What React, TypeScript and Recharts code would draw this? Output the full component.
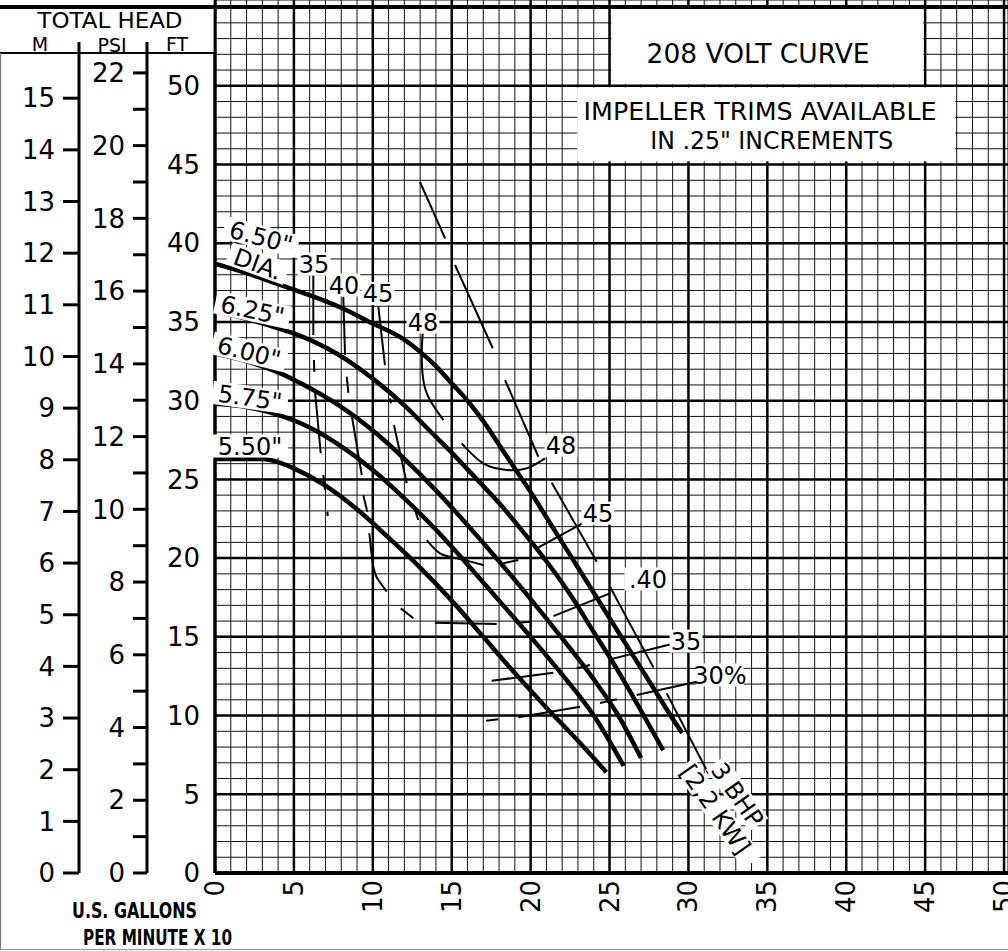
import React from 'react';
import {
  LineChart,
  Line,
  XAxis,
  YAxis,
  CartesianGrid,
  ReferenceLine,
  ReferenceArea,
  ReferenceDot,
} from 'recharts';

type Pt = [number, number];

const FONT = "'DejaVu Sans', 'Liberation Sans', sans-serif";
const NARROW = "'DejaVu Sans Condensed', 'Liberation Sans Narrow', 'DejaVu Sans', sans-serif";

// impeller curves, [US gpm / 10, total head ft]
const DIA_650: Pt[] = [
  [0, 38.7], [2, 38.1], [4, 37.4], [6, 36.7], [8, 35.9], [10, 34.9], [11.8, 34.0], [13, 33.1],
  [14, 32.2], [15, 31.1], [16, 30.0], [17, 28.7], [18, 27.2], [19, 25.7], [20, 24.2], [21, 22.6],
  [22, 21.0], [23, 19.4], [24, 17.8], [25, 16.2], [26, 14.6], [27, 13.0], [28, 11.4], [29, 9.8], [29.6, 8.9],
];
const DIA_625: Pt[] = [
  [0, 35.7], [2, 35.2], [4, 34.6], [5.2, 34.2], [7.7, 33.0], [10, 31.4], [12, 29.7], [13.5, 28.2],
  [15, 26.7], [16.5, 25.1], [18, 23.5], [19.5, 21.7], [21, 19.8], [22.5, 17.7], [24, 15.3], [25.5, 12.9],
  [27, 10.3], [28.4, 7.8],
];
const DIA_600: Pt[] = [
  [0, 33.0], [2, 32.5], [4, 31.8], [6, 30.8], [8, 29.6], [10, 28.1], [12, 26.3], [14, 24.3],
  [16, 22.1], [18, 19.8], [20, 17.4], [22, 14.9], [24, 12.3], [25.5, 10.1], [27, 7.3],
];
const DIA_575: Pt[] = [
  [0, 29.8], [2, 29.6], [4, 29.1], [6, 28.3], [8, 27.1], [10, 25.6], [12, 23.8], [14, 21.8],
  [16, 19.6], [18, 17.3], [20, 15.0], [22, 12.6], [24, 10.0], [25.9, 6.8],
];
const DIA_550: Pt[] = [
  [0, 26.3], [3, 26.3], [4, 26.1], [5, 25.7], [7, 24.6], [9, 23.1], [11, 21.3], [13, 19.4],
  [15, 17.3], [17, 15.0], [19, 12.7], [21, 10.5], [23, 8.4], [24.8, 6.4],
];
const IMPELLERS = [DIA_650, DIA_625, DIA_600, DIA_575, DIA_550];

// efficiency contours, drawn in broken pieces as on the sheet
const EFF_35_LEFT: Pt[][] = [
  [[6.23, 37.98], [6.23, 34.17]],
  [[6.27, 32.58], [6.29, 31.84]],
  [[6.34, 30.57], [6.7, 26.66]],
  [[6.86, 25.28], [6.97, 24.33]],
  [[7.12, 22.95], [7.14, 22.67]],
];
const EFF_40_LEFT: Pt[][] = [
  [[8.13, 36.6], [8.24, 32.9]],
  [[8.35, 31.52], [8.45, 30.5]],
  [[8.66, 29.09], [9.3, 25.28]],
  [[9.4, 24.0], [9.65, 22.95]],
  [[9.78, 21.58], [10.03, 19.45], [10.35, 18.61], [10.88, 17.87]],
  [[11.77, 16.81], [12.57, 16.18]],
];
const EFF_40_RIGHT: Pt[][] = [
  [[13.94, 15.9], [17.85, 15.81]],
  [[19.12, 15.9], [20.07, 15.96]],
  [[21.44, 16.32], [25.03, 17.76]],
];
const EFF_45: Pt[][] = [
  [[10.35, 35.97], [10.77, 32.26]],
  [[11.09, 30.15], [11.15, 29.83]],
  [[11.34, 28.45], [12.15, 24.75]],
  [[12.57, 23.37], [12.88, 22.42]],
  [[13.42, 21.15], [14.26, 20.3], [15.32, 19.99], [17.0, 19.56]],
  [[18.27, 19.67], [19.22, 19.88]],
  [[20.39, 20.62], [23.45, 22.31]],
];
const EFF_48: Pt[][] = [
  [[13.16, 34.28], [13.1, 33.0], [13.2, 31.31], [13.62, 30.04], [14.47, 28.77]],
  [[15.63, 27.29], [17.0, 26.02], [18.49, 25.6], [19.75, 25.7], [20.91, 26.34]],
];
const EFF_35_RIGHT: Pt[][] = [
  [[17.53, 12.21], [21.44, 12.72]],
  [[22.92, 13.0], [23.76, 13.21]],
  [[25.03, 13.57], [28.83, 14.51]],
];
const EFF_30: Pt[][] = [
  [[17.17, 9.67], [17.95, 9.76]],
  [[19.22, 9.89], [23.13, 10.56]],
  [[24.4, 10.8], [25.46, 11.03]],
  [[26.72, 11.3], [30.53, 12.15]],
];
const EFFICIENCY = [
  ...EFF_35_LEFT, ...EFF_40_LEFT, ...EFF_40_RIGHT, ...EFF_45, ...EFF_48, ...EFF_35_RIGHT, ...EFF_30,
];

// 3 BHP power limit line
const BHP_3: Pt[][] = [
  [[12.99, 43.89], [14.58, 40.31]],
  [[15.21, 38.62], [17.6, 33.33]],
  [[18.38, 31.31], [20.49, 26.44]],
  [[21.34, 24.79], [24.19, 19.77]],
  [[25.03, 18.18], [27.78, 13.06]],
  [[28.62, 11.41], [31.26, 6.33]],
];

// axis ticks
const Q_GRID = Array.from({ length: 51 }, (_, i) => i);
const H_GRID = Array.from({ length: 56 }, (_, i) => i);
const PSI_TICKS = Array.from({ length: 23 }, (_, i) => i);
const M_TICKS = Array.from({ length: 16 }, (_, i) => i);
const MAJOR_Q = [0, 5, 10, 15, 20, 25, 30, 35, 40, 45, 50];
const MAJOR_H = [0, 5, 10, 15, 20, 25, 30, 35, 40, 45, 50, 55];

const H_MAX = 55.45;
const Q_MAX = 50.25;
const FT_PER_PSI = 2.31;
const FT_PER_M = 3.2808;

type Note = {
  q: number;
  h: number;
  text: string;
  size?: number;
  angle?: number;
  anchor?: 'start' | 'middle';
  bg?: boolean;
  tl?: number;
};

const NOTES: Note[] = [
  { q: 2.92, h: 40.4, text: '6.50"', angle: 15 },
  { q: 2.72, h: 38.7, text: 'DIA.', angle: 20 },
  { q: 2.38, h: 35.76, text: '6.25"', angle: 12 },
  { q: 2.16, h: 33.1, text: '6.00"', angle: 14 },
  { q: 2.22, h: 30.2, text: '5.75"', angle: 8 },
  { q: 2.22, h: 27.12, text: '5.50"' },
  { q: 6.27, h: 38.68, text: '35' },
  { q: 8.17, h: 37.35, text: '40' },
  { q: 10.33, h: 36.8, text: '45' },
  { q: 13.18, h: 35.0, text: '48' },
  { q: 21.93, h: 27.18, text: '48' },
  { q: 24.27, h: 22.86, text: '45' },
  { q: 27.44, h: 18.67, text: '.40' },
  { q: 29.85, h: 14.73, text: '35' },
  { q: 32.0, h: 12.58, text: '30%' },
  { q: 31.81, h: 6.86, text: '3 BHP', angle: 55, anchor: 'start' },
  { q: 29.85, h: 6.73, text: '[2,2 KW]', angle: 55, anchor: 'start' },
];

const BOX_NOTES: Note[] = [
  { q: 34.41, h: 52.08, text: '208 VOLT CURVE', size: 27, tl: 223, bg: false },
  { q: 34.54, h: 48.4, text: 'IMPELLER TRIMS AVAILABLE', size: 25, tl: 353, bg: false },
  { q: 35.28, h: 46.55, text: 'IN .25" INCREMENTS', size: 24, tl: 243, bg: false },
];

const toRows = (pts: Pt[]) => pts.map(([q, h]) => ({ q, h }));

// thick 5-unit lines, broken where the note boxes sit
const majorVertical = (q: number): [number, number][] => {
  if (q === 25 || q === 45) return [[0, 45.2], [50, H_MAX]];
  if (q === 30 || q === 35 || q === 40) return [[0, 45.2], [55, H_MAX]];
  return [[0, H_MAX]];
};

const renderNote = (n: Note, key: string) => {
  const size = n.size ?? 24;
  const anchor = n.anchor ?? 'middle';
  const w = n.tl ?? n.text.length * size * 0.6 + 4;
  return (
    <ReferenceDot
      key={key}
      x={n.q}
      y={n.h}
      r={0}
      ifOverflow="visible"
      shape={(p: any) => (
        <g transform={`translate(${p.cx},${p.cy}) rotate(${n.angle ?? 0})`}>
          {n.bg !== false && (
            <rect
              x={anchor === 'start' ? -3 : -w / 2}
              y={-size * 0.48}
              width={w}
              height={size * 0.96}
              fill="#fff"
            />
          )}
          <text
            x={0}
            y={size * 0.36}
            textAnchor={anchor}
            fontSize={size}
            fontFamily={FONT}
            fill="#000"
            {...(n.tl ? { textLength: n.tl, lengthAdjust: 'spacingAndGlyphs' } : {})}
          >
            {n.text}
          </text>
        </g>
      )}
    />
  );
};

const QTick = ({ x, y, payload }: any) => {
  if (payload.value % 5 !== 0) return null;
  const ty = y + 7;
  return (
    <text
      x={x}
      y={ty}
      transform={`rotate(-90 ${x} ${ty})`}
      textAnchor="end"
      dominantBaseline="central"
      fontSize={26}
      fontFamily={FONT}
      fill="#000"
    >
      {payload.value}
    </text>
  );
};

const tickStyle = { fill: '#000', fontSize: 26, fontFamily: FONT };

export default function App() {
  return (
    <div style={{ position: 'absolute', left: 0, top: 0, width: 1008, height: 951, background: '#fff' }}>
      <LineChart width={1008} height={951} margin={{ top: 0, right: 0, bottom: 0, left: 0 }}>
        <CartesianGrid stroke="#111" strokeWidth={1} />
        <XAxis
          dataKey="q"
          type="number"
          domain={[0, Q_MAX]}
          ticks={Q_GRID}
          interval={0}
          allowDataOverflow
          height={78}
          axisLine={false}
          tickLine={false}
          tickSize={0}
          tickMargin={0}
          tick={<QTick />}
        />
        <YAxis
          yAxisId={0}
          type="number"
          domain={[0, H_MAX]}
          ticks={H_GRID}
          interval={0}
          allowDataOverflow
          width={68}
          axisLine={false}
          tickLine={false}
          tickSize={0}
          tickMargin={15}
          tick={tickStyle}
          tickFormatter={(v: number) => (v % 5 === 0 && v <= 50 ? String(v) : '')}
        />
        <YAxis
          yAxisId="a-psi"
          type="number"
          domain={[0, H_MAX / FT_PER_PSI]}
          ticks={PSI_TICKS}
          interval={0}
          allowDataOverflow
          width={68}
          axisLine={{ stroke: '#000', strokeWidth: 3 }}
          tickLine={{ stroke: '#000', strokeWidth: 3 }}
          tickSize={14}
          tickMargin={8}
          tick={tickStyle}
          tickFormatter={(v: number) => (v % 2 === 0 ? String(v) : '')}
        />
        <YAxis
          yAxisId="b-m"
          type="number"
          domain={[0, H_MAX / FT_PER_M]}
          ticks={M_TICKS}
          interval={0}
          allowDataOverflow
          width={79}
          axisLine={{ stroke: '#000', strokeWidth: 3 }}
          tickLine={{ stroke: '#000', strokeWidth: 3 }}
          tickSize={16}
          tickMargin={8}
          tick={tickStyle}
        />

        {MAJOR_H.map((h) => (
          <ReferenceLine key={`mh-${h}`} y={h} stroke="#000" strokeWidth={h === 0 || h === 55 ? 4 : 2.5} ifOverflow="visible" />
        ))}
        {MAJOR_Q.flatMap((q) =>
          majorVertical(q).map(([a, b], i) => (
            <ReferenceLine
              key={`mq-${q}-${i}`}
              segment={[{ x: q, y: a }, { x: q, y: b }]}
              stroke="#000"
              strokeWidth={q === 0 ? 3.5 : 2.5}
              ifOverflow="visible"
            />
          )),
        )}

        <ReferenceArea x1={22.95} x2={46.9} y1={45.2} y2={49.9} fill="#fff" fillOpacity={1} stroke="none" ifOverflow="visible" />
        <ReferenceArea x1={25.12} x2={44.88} y1={50.1} y2={54.88} fill="#fff" fillOpacity={1} stroke="none" ifOverflow="visible" />
        {BOX_NOTES.map((n, i) => renderNote(n, `box-${i}`))}

        {NOTES.map((n, i) => renderNote(n, `note-${i}`))}

        {EFFICIENCY.map((seg, i) => (
          <Line
            key={`eff-${i}`}
            data={toRows(seg)}
            dataKey="h"
            type="natural"
            stroke="#000"
            strokeWidth={2}
            dot={false}
            activeDot={false}
            isAnimationActive={false}
          />
        ))}
        {BHP_3.map((seg, i) => (
          <Line
            key={`bhp-${i}`}
            data={toRows(seg)}
            dataKey="h"
            type="linear"
            stroke="#000"
            strokeWidth={2}
            dot={false}
            activeDot={false}
            isAnimationActive={false}
          />
        ))}
        {IMPELLERS.map((c, i) => (
          <Line
            key={`dia-${i}`}
            data={toRows(c)}
            dataKey="h"
            type="monotone"
            stroke="#000"
            strokeWidth={4.5}
            dot={false}
            activeDot={false}
            isAnimationActive={false}
          />
        ))}
      </LineChart>

      <svg width={1008} height={951} style={{ position: 'absolute', left: 0, top: 0, pointerEvents: 'none' }}>
        <rect x={0} y={0} width={213.5} height={52} fill="#fff" />
        <line x1={0} y1={7} x2={215} y2={7} stroke="#000" strokeWidth={4} />
        <line x1={0} y1={53} x2={214} y2={53} stroke="#000" strokeWidth={2} />
        <line x1={79} y1={42} x2={79} y2={54} stroke="#000" strokeWidth={3} />
        <line x1={147} y1={42} x2={147} y2={54} stroke="#000" strokeWidth={3} />
        <text x={110} y={28} textAnchor="middle" fontSize={22} fontFamily={FONT} textLength={145} lengthAdjust="spacingAndGlyphs">
          TOTAL HEAD
        </text>
        <text x={40} y={51} textAnchor="middle" fontSize={19} fontFamily={FONT}>M</text>
        <text x={112} y={52} textAnchor="middle" fontSize={19} fontFamily={FONT}>PSI</text>
        <text x={177} y={51} textAnchor="middle" fontSize={19} fontFamily={FONT}>FT</text>
        <text x={72} y={918} fontSize={22} fontWeight="bold" fontFamily={NARROW} textLength={125} lengthAdjust="spacingAndGlyphs">
          U.S. GALLONS
        </text>
        <text x={83} y={945} fontSize={22} fontWeight="bold" fontFamily={NARROW} textLength={149} lengthAdjust="spacingAndGlyphs">
          PER MINUTE X 10
        </text>
        <line x1={0.5} y1={53} x2={0.5} y2={950} stroke="#777" strokeWidth={1} />
        <line x1={0} y1={949.5} x2={1008} y2={949.5} stroke="#999" strokeWidth={1} />
      </svg>
    </div>
  );
}
